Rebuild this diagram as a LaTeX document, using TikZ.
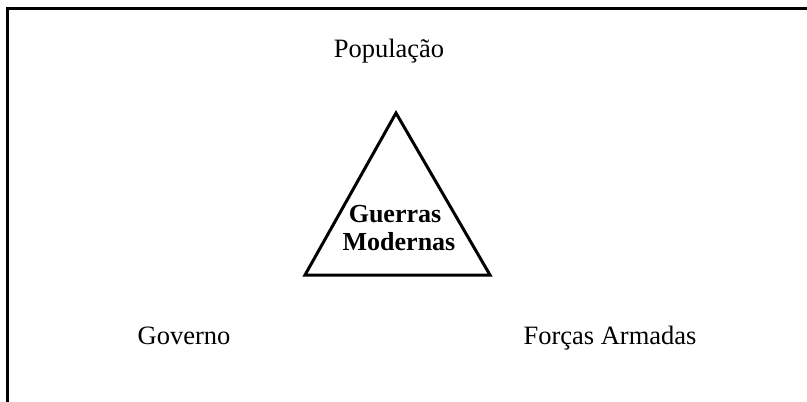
\documentclass[tikz,border=0pt]{standalone}
\usepackage{fontspec}
\setmainfont{Liberation Serif}
\begin{document}
\begin{tikzpicture}[x=1pt,y=1pt,
  lbl/.style={font=\fontsize{26.5}{28}\selectfont, inner sep=0pt, anchor=base},
  blbl/.style={lbl, font=\fontsize{26}{28}\selectfont\bfseries},
  frame/.style={line width=3pt, line cap=rect},
  tri/.style={line width=3pt, line join=miter}]
\useasboundingbox (0,0) rectangle (807,-402);
% frame (top and left edges visible)
\coordinate (ftl) at (7,-8.5);
\coordinate (ftr) at (810,-8.5);
\coordinate (fbl) at (7,-405);
\draw[frame] (ftr) -- (ftl) -- (fbl);
% triangle
\coordinate (apex) at (396,-113);
\coordinate (bl) at (305,-275);
\coordinate (br) at (490,-275);
\draw[tri] (apex) -- (bl) -- (br) -- cycle;
% labels
\node[blbl] (g1) at (395,-222) {Guerras};
\node[blbl] (g2) at (399,-250) {Modernas};
\node[lbl] (pop) at (389,-57) {População};
\node[lbl] (gov) at (184,-344) {Governo};
\node[lbl] (fa) at (610,-344) {Forças Armadas};
\end{tikzpicture}
\end{document}
